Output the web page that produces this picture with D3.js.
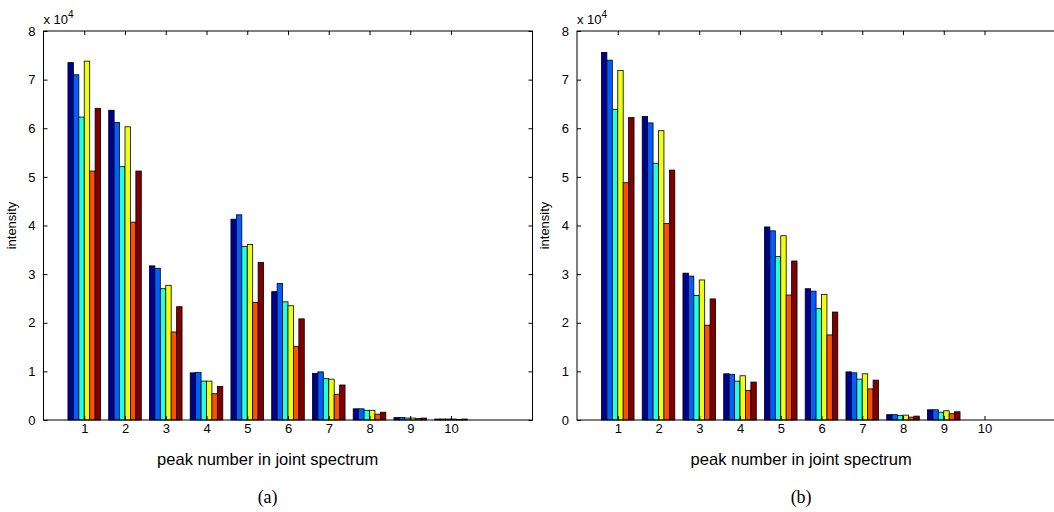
<!DOCTYPE html>
<html>
<head>
<meta charset="utf-8">
<script src="https://cdn.jsdelivr.net/npm/d3@7"></script>
<style>
  body { margin: 0; background: #fff; }
  svg { display: block; font-family: "Liberation Sans", Arial, sans-serif; }
  .tick text { font-size: 13px; fill: #000; }
  .tick line { stroke: #000; }
</style>
</head>
<body>
<div id="chart"></div>
<script>
// peak numbers on the x axis
var peaks = [1, 2, 3, 4, 5, 6, 7, 8, 9, 10];
var yTicks = [0, 1, 2, 3, 4, 5, 6, 7, 8];

// jet colormap, one colour per series
var seriesColors = ["#00008f", "#0060ff", "#20ffdf", "#efff10", "#ff5000", "#800000"];

// intensities in units of 10^4, one row per series (panel a)
var intensityA = [
  [7.35, 6.37, 3.17, 0.97, 4.13, 2.64, 0.96, 0.23, 0.05, 0.02],
  [7.10, 6.12, 3.12, 0.98, 4.22, 2.81, 0.99, 0.23, 0.05, 0.02],
  [6.23, 5.21, 2.70, 0.80, 3.57, 2.43, 0.85, 0.20, 0.04, 0.02],
  [7.38, 6.03, 2.77, 0.80, 3.61, 2.35, 0.84, 0.20, 0.04, 0.02],
  [5.12, 4.07, 1.81, 0.54, 2.42, 1.51, 0.53, 0.12, 0.03, 0.01],
  [6.41, 5.12, 2.33, 0.69, 3.24, 2.08, 0.72, 0.16, 0.04, 0.02]
];

// panel b
var intensityB = [
  [7.56, 6.24, 3.02, 0.95, 3.97, 2.70, 0.99, 0.11, 0.21, 0],
  [7.40, 6.11, 2.96, 0.94, 3.89, 2.65, 0.97, 0.11, 0.21, 0],
  [6.39, 5.28, 2.56, 0.80, 3.36, 2.29, 0.84, 0.09, 0.16, 0],
  [7.19, 5.95, 2.88, 0.91, 3.79, 2.58, 0.95, 0.10, 0.19, 0],
  [4.88, 4.04, 1.95, 0.61, 2.57, 1.75, 0.64, 0.06, 0.13, 0],
  [6.22, 5.14, 2.49, 0.78, 3.27, 2.22, 0.82, 0.08, 0.17, 0]
];

var svgWidth = 1054, svgHeight = 512;

var svg = d3.select("#chart")
  .append("svg")
  .attr("width", svgWidth)
  .attr("height", svgHeight);

var axTop = 31, axBottom = 420, axWidth = 489;

function drawPanel(left, data, caption) {
  var g = svg.append("g");

  var x = d3.scaleLinear().domain([0, 12]).range([left, left + axWidth]);
  var y = d3.scaleLinear().domain([0, 8]).range([axBottom, axTop]);

  // bars: one band per series inside each group of width 0.8
  var inner = d3.scaleBand().domain(d3.range(seriesColors.length)).paddingInner(0);

  var rows = [];
  data.forEach(function (vals, s) {
    vals.forEach(function (v, i) {
      rows.push({ peak: peaks[i], s: s, v: v });
    });
  });

  g.append("g")
    .selectAll("rect")
    .data(rows)
    .enter()
    .append("rect")
    .attr("x", function (d) {
      inner.range([x(d.peak - 0.4), x(d.peak + 0.4)]);
      return inner(d.s);
    })
    .attr("width", function () { return inner.bandwidth(); })
    .attr("y", function (d) { return y(d.v); })
    .attr("height", function (d) { return y(0) - y(d.v); })
    .attr("fill", function (d) { return seriesColors[d.s]; })
    .attr("stroke", "#000")
    .attr("stroke-width", 0.8);

  // axes with inward ticks on all four sides
  g.append("g")
    .attr("transform", "translate(0," + axBottom + ")")
    .call(d3.axisBottom(x).tickValues(peaks).tickSizeInner(-4).tickSizeOuter(0).tickPadding(4))
    .call(function (a) { a.select(".domain").remove(); });

  g.append("g")
    .attr("transform", "translate(0," + axTop + ")")
    .call(d3.axisTop(x).tickValues(peaks).tickSizeInner(-4).tickSizeOuter(0).tickFormat(""))
    .call(function (a) { a.select(".domain").remove(); });

  g.append("g")
    .attr("transform", "translate(" + left + ",0)")
    .call(d3.axisLeft(y).tickValues(yTicks).tickSizeInner(-4).tickSizeOuter(0).tickPadding(8))
    .call(function (a) { a.select(".domain").remove(); });

  g.append("g")
    .attr("transform", "translate(" + (left + axWidth) + ",0)")
    .call(d3.axisRight(y).tickValues(yTicks).tickSizeInner(-4).tickSizeOuter(0).tickFormat(""))
    .call(function (a) { a.select(".domain").remove(); });

  // box
  g.append("rect")
    .attr("x", left)
    .attr("y", axTop)
    .attr("width", axWidth)
    .attr("height", axBottom - axTop)
    .attr("fill", "none")
    .attr("stroke", "#000")
    .attr("stroke-width", 1);

  // exponent label
  var ex = g.append("text")
    .attr("x", left)
    .attr("y", axTop - 7)
    .attr("font-size", "13px");
  ex.append("tspan").text("x 10");
  ex.append("tspan").attr("dy", -6).attr("font-size", "10px").text("4");

  // y label
  g.append("text")
    .attr("transform", "translate(" + (left - 28) + "," + ((axTop + axBottom) / 2) + ") rotate(-90)")
    .attr("text-anchor", "middle")
    .attr("font-size", "13px")
    .text("intensity");

  // x label
  g.append("text")
    .attr("x", x(5.5))
    .attr("y", 465)
    .attr("text-anchor", "middle")
    .attr("font-size", "16.5px")
    .text("peak number in joint spectrum");

  // caption
  g.append("text")
    .attr("x", x(5.5))
    .attr("y", 503)
    .attr("text-anchor", "middle")
    .attr("font-family", "'Liberation Serif', 'Times New Roman', serif")
    .attr("font-size", "18px")
    .text(caption);
}

drawPanel(43.5, intensityA, "(a)");
drawPanel(577, intensityB, "(b)");
</script>
</body>
</html>
